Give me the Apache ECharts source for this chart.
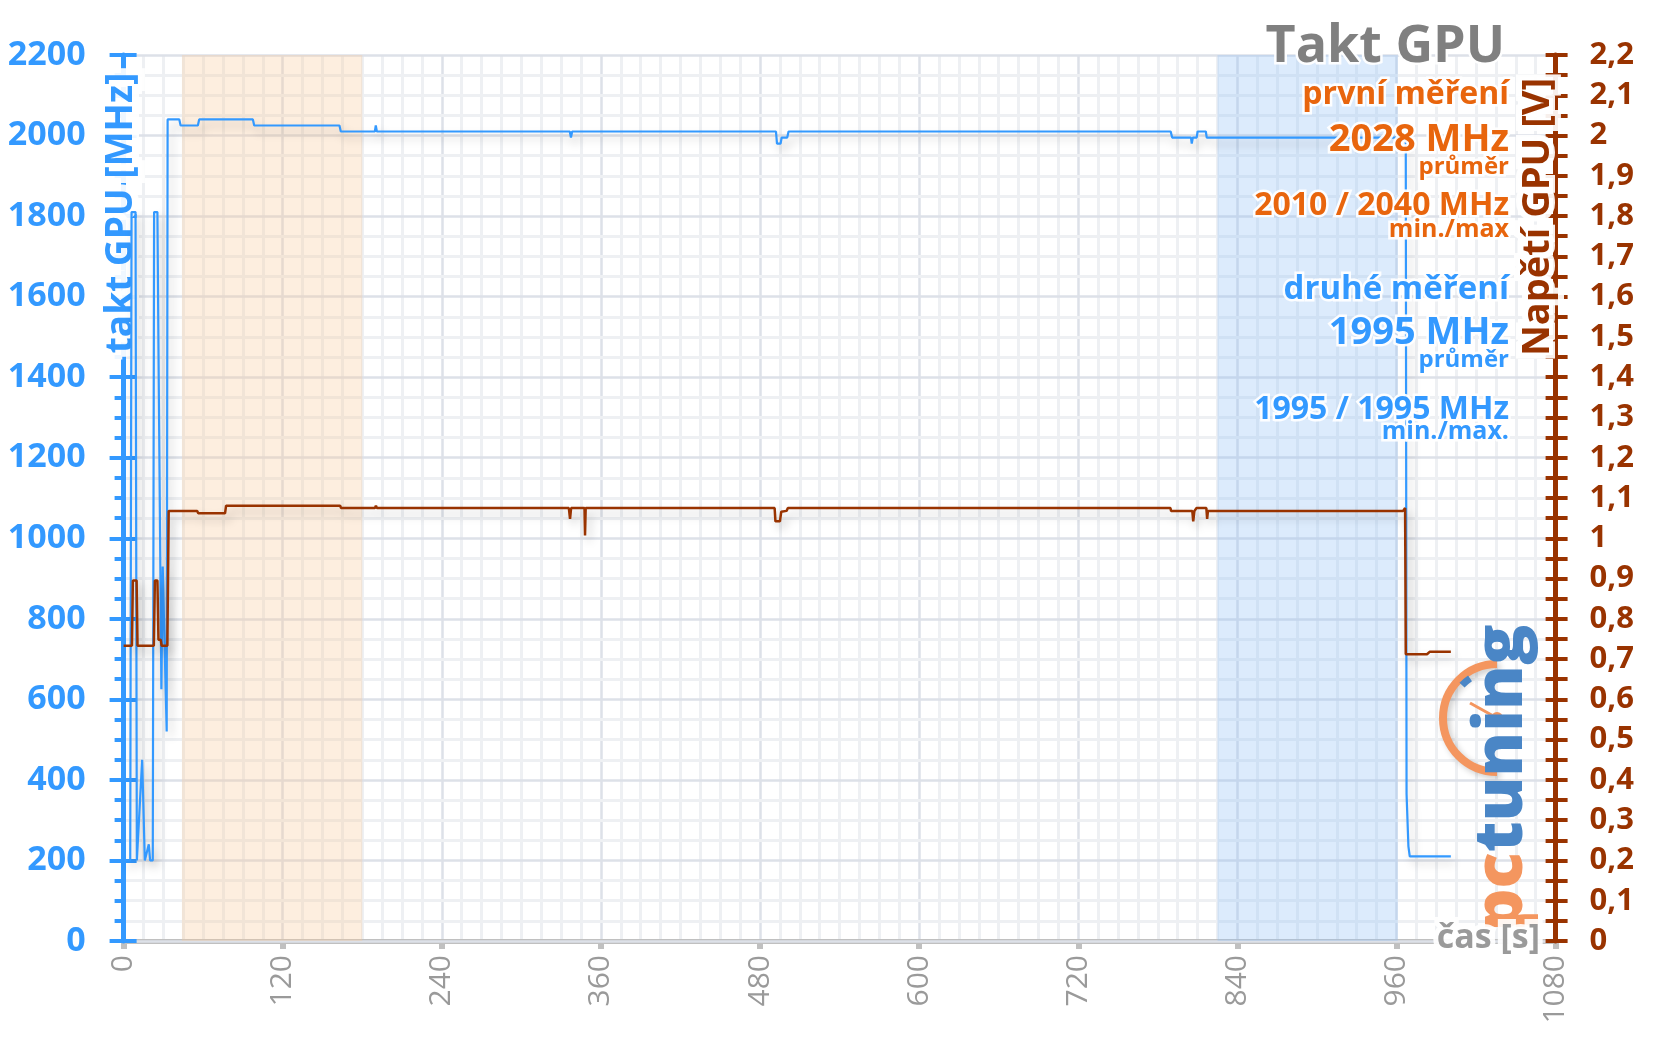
<!DOCTYPE html>
<html><head><meta charset="utf-8">
<script src="https://cdn.jsdelivr.net/npm/echarts@6/dist/echarts.min.js"></script>
<style>html,body{margin:0;padding:0;background:#fff}#c{width:1656px;height:1044px}</style>
</head><body><div id="c"></div>
<script>
// ---- data ----
const clockT = [0,5,6,9,10,11,14,16,19,20,22,23,25.5,26.3,27.8,28.5,29.5,30.8,32.5,33.2,42,43,56,57,97.5,98.5,162.8,163.8,189.5,190.2,191,336.5,337.4,338.3,492,492.8,495.5,496.3,500.5,501.5,789.7,790.8,805,805.6,806.4,809.3,810,816.2,816.9,967,967.6,969,970,1001];
const clockMHz = [200,200,1810,1810,200,200,450,200,240,200,200,1810,1810,1470,1470,625,930,930,520,2040,2040,2025,2025,2040,2040,2025,2025,2010,2010,2025,2010,2010,1995,2010,2010,1980,1980,1995,1995,2010,2010,1995,1995,1980,1995,1995,2010,2010,1995,1995,365,235,210,210];
const voltT = [0,6.3,7,9.8,10.5,22.8,23.6,25.5,26.3,28,28.7,33,34,55.5,56.3,76.5,77.3,163.3,164,189.6,190.3,191,335.8,336.7,337.5,347.6,348,348.5,491,491.6,495,496,500,501,789.5,790,806,806.7,807.6,809.2,816.6,817.2,817.8,965,966.5,967,983,985,1001];
const voltV = [0.733,0.733,0.895,0.895,0.733,0.733,0.895,0.895,0.748,0.748,0.733,0.733,1.068,1.068,1.062,1.062,1.081,1.081,1.075,1.075,1.081,1.075,1.075,1.048,1.075,1.075,1.007,1.075,1.075,1.042,1.042,1.066,1.068,1.075,1.075,1.068,1.068,1.042,1.068,1.075,1.075,1.048,1.068,1.068,1.075,0.712,0.712,0.718,0.718];
const bandFirst = [44, 180];
const bandSecond = [825, 961];
const chartTitle = 'Takt GPU';
const firstStats = ['první měření', '2028 MHz', 'průměr', '2010 / 2040 MHz', 'min./max'];
const secondStats = ['druhé měření', '1995 MHz', 'průměr', '1995 / 1995 MHz', 'min./max.'];
const leftAxisName = 'takt GPU [MHz]';
const rightAxisName = 'Napětí GPU [V]';
const xAxisName = 'čas [s]';

// ---- styling ----
const BLUE = '#3399ff', BROWN = '#993300', ORANGE = '#e8650d', GRAY = '#808080';
const FONT = '"Open Sans", "DejaVu Sans", sans-serif';
const clockData = clockT.map((t, i) => [t, clockMHz[i]]);
const voltData = voltT.map((t, i) => [t, voltV[i]]);

function glowText(text, x, y, size, color, align, rot, glow, z) {
  return {
    type: 'text', x: x, y: y, rotation: rot || 0, z: z || 100,
    style: {
      text: text, fill: color, font: 'bold ' + size + 'px ' + FONT,
      textAlign: align, align: align, textVerticalAlign: 'middle', verticalAlign: 'middle',
      stroke: 'rgba(255,255,255,0.92)', lineWidth: glow || 5,
      shadowBlur: 10, shadowColor: 'rgba(255,255,255,1)'
    }
  };
}

const statSizes = [32, 38, 24, 32, 25];
const secondSizes = [33, 38, 24, 32, 25];
const firstY = [95, 140, 167, 206, 230];
const secondY = [290, 333, 360, 410, 432];
const graphics = [];
graphics.push(glowText(chartTitle, 1505, 47, 52, GRAY, 'right'));
firstStats.forEach((s, i) => graphics.push(glowText(s, 1509, firstY[i], statSizes[i], ORANGE, 'right')));
secondStats.forEach((s, i) => graphics.push(glowText(s, 1509, secondY[i], secondSizes[i], BLUE, 'right')));
graphics.push(glowText(leftAxisName, 121, 213, 37, BLUE, 'center', Math.PI / 2, 14, 2));
graphics.push(glowText(rightAxisName, 1538, 217, 38, BROWN, 'center', Math.PI / 2, 12));
graphics.push(glowText(xAxisName, 1540, 938, 34, '#9a9a9a', 'right', 0, 10));

// logo
const LOGO_OR = '#f4965f', LOGO_BL = '#4a86c6';
graphics.push({
  type: 'arc', z: 90,
  shape: { cx: 1497, cy: 718, r: 54, startAngle: Math.PI / 2, endAngle: Math.PI * 1.5 },
  style: { stroke: LOGO_OR, lineWidth: 8, fill: null, shadowBlur: 6, shadowColor: 'rgba(0,0,0,0.2)', shadowOffsetX: 3, shadowOffsetY: 3 }
});
graphics.push({
  type: 'arc', z: 91,
  shape: { cx: 1497, cy: 718, r: 48, startAngle: Math.PI * 1.24, endAngle: Math.PI * 1.31 },
  style: { stroke: LOGO_BL, lineWidth: 7, fill: null }
});
graphics.push({
  type: 'line', z: 91,
  shape: { x1: 1497, y1: 718, x2: 1470, y2: 703 },
  style: { stroke: LOGO_OR, lineWidth: 3 }
});
graphics.push({
  type: 'circle', z: 91,
  shape: { cx: 1497, cy: 718, r: 6 },
  style: { fill: LOGO_OR }
});
graphics.push({
  type: 'text', x: 1503, y: 778, rotation: Math.PI / 2, z: 92,
  style: {
    text: '{p|pc}{t|tuning}', font: '800 67px ' + FONT,
    textAlign: 'center', align: 'center', textVerticalAlign: 'middle', verticalAlign: 'middle',
    rich: {
      p: { fill: LOGO_OR, color: LOGO_OR, font: '800 67px ' + FONT },
      t: { fill: LOGO_BL, color: LOGO_BL, font: '800 67px ' + FONT }
    },
    shadowBlur: 6, shadowColor: 'rgba(0,0,0,0.25)', shadowOffsetX: 3, shadowOffsetY: 3
  }
});

function voltLabel(v) {
  const k = Math.round(v * 20);
  if (k % 2) return '';
  return (k / 20).toFixed(1).replace(/\.0$/, '').replace('.', ',');
}
function plain(v) { return String(Math.round(v)); }

const chart = echarts.init(document.getElementById('c'), null, { renderer: 'canvas' });
chart.setOption({
  animation: false,
  backgroundColor: '#ffffff',
  grid: { left: 123.6, right: 100.4, top: 55, bottom: 103, containLabel: false, outerBoundsMode: 'none' },
  xAxis: {
    type: 'value', min: 0, max: 1080, interval: 120, z: 0,
    axisLine: { show: true, lineStyle: { color: '#c0c0c0', width: 5 } },
    axisTick: { show: true, length: 8, lineStyle: { color: '#c0c0c0', width: 6 } },
    axisLabel: { rotate: 90, color: '#9a9a9a', fontSize: 30, fontFamily: FONT, margin: 14, formatter: plain },
    splitLine: { show: true, lineStyle: { color: '#dde1e8', width: 2.5 } },
    minorTick: { show: false, splitNumber: 8 },
    minorSplitLine: { show: true, lineStyle: { color: '#eef0f3', width: 3 } }
  },
  yAxis: [
    {
      type: 'value', position: 'left', min: 0, max: 2200, interval: 200, z: 1,
      axisLine: { show: true, lineStyle: { color: BLUE, width: 5 } },
      axisTick: { show: true, length: 14, lineStyle: { color: BLUE, width: 4 } },
      minorTick: { show: true, splitNumber: 4, length: 9, lineStyle: { color: BLUE, width: 4 } },
      axisLabel: { color: BLUE, fontSize: 34, fontWeight: 'bold', fontFamily: FONT, margin: 38, formatter: plain },
      splitLine: { show: true, lineStyle: { color: '#dde1e8', width: 2.5 } },
      minorSplitLine: { show: true, lineStyle: { color: '#eef0f3', width: 3 } }
    },
    {
      type: 'value', position: 'right', min: 0, max: 2.2, interval: 0.05, z: 1,
      axisLine: { show: true, lineStyle: { color: BROWN, width: 5 } },
      axisTick: { show: true, length: 12, lineStyle: { color: BROWN, width: 4 } },
      axisLabel: { color: BROWN, fontSize: 31, fontWeight: 'bold', fontFamily: FONT, margin: 34, formatter: voltLabel },
      splitLine: { show: false }
    },
    {
      type: 'value', position: 'left', min: 0, max: 2200, interval: 200, z: 1,
      axisLine: { show: false },
      axisTick: { show: true, inside: true, length: 13, lineStyle: { color: BLUE, width: 4 } },
      axisLabel: { show: false }, splitLine: { show: false }
    },
    {
      type: 'value', position: 'right', min: 0, max: 2.2, interval: 0.05, z: 1,
      axisLine: { show: false },
      axisTick: { show: true, inside: true, length: 10, lineStyle: { color: BROWN, width: 4 } },
      axisLabel: { show: false }, splitLine: { show: false }
    }
  ],
  series: [
    {
      type: 'line', yAxisIndex: 0, data: clockData, showSymbol: false, symbol: 'none', z: 3,
      lineStyle: { color: BLUE, width: 2.2, shadowBlur: 10, shadowColor: 'rgba(0,0,0,0.22)', shadowOffsetX: 4, shadowOffsetY: 6 },
      markArea: {
        silent: true,
        data: [
          [{ xAxis: bandFirst[0], itemStyle: { color: 'rgba(248,202,155,0.32)' } }, { xAxis: bandFirst[1] }],
          [{ xAxis: bandSecond[0], itemStyle: { color: 'rgba(145,192,245,0.32)' } }, { xAxis: bandSecond[1] }]
        ]
      }
    },
    {
      type: 'line', yAxisIndex: 1, data: voltData, showSymbol: false, symbol: 'none', z: 4,
      lineStyle: { color: BROWN, width: 2.5, shadowBlur: 10, shadowColor: 'rgba(0,0,0,0.22)', shadowOffsetX: 4, shadowOffsetY: 6 }
    }
  ],
  graphic: graphics
});
</script>
</body></html>
